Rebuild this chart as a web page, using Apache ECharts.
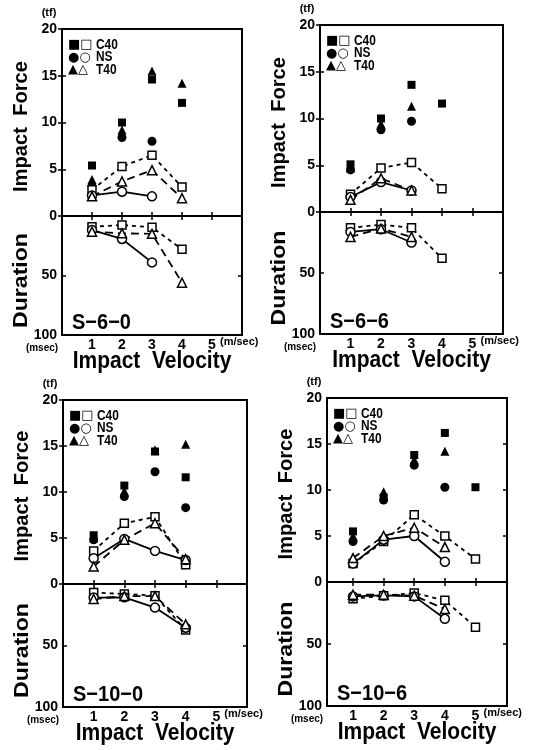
<!DOCTYPE html>
<html>
<head>
<meta charset="utf-8">
<script src="https://cdn.jsdelivr.net/npm/echarts@6/dist/echarts.min.js"></script>
<style>
html, body { margin: 0; padding: 0; background: #fff; }
#chart { width: 544px; height: 750px; }
</style>
</head>
<body>
<div id="chart"></div>
<script>
// impact velocity (m/sec)
const velocity = [1, 2, 3, 4, 5];
const panelNames = ['S\u22126\u22120', 'S\u22126\u22126', 'S\u221210\u22120', 'S\u221210\u22126'];
const forceTicks = [0, 5, 10, 15, 20];     // tf
const durationTicks = [0, 50, 100];        // msec

// impact force (tf), filled marks - one row per panel, one value per velocity
const c40ForceFilled = [
    [5.4, 10.0, 14.6, 12.1, null],
    [5.1, 10.0, 13.6, 11.6, null],
    [5.3, 10.7, 14.4, 11.6, null],
    [5.5, 9.2, 13.8, 16.2, 10.3]
];
const nsForceFilled = [
    [3.2, 8.4, 8.0, null, null],
    [4.5, 8.8, 9.7, null, null],
    [4.8, 9.5, 12.2, 8.3, null],
    [4.4, 8.9, 12.7, 10.3, null]
];
const t40ForceFilled = [
    [3.9, 9.2, 15.5, 14.2, null],
    [4.7, 9.4, 11.3, null, null],
    [5.0, 10.1, 14.6, 15.2, null],
    [5.0, 9.8, 13.3, 14.2, null]
];
// impact force (tf), open marks
const c40ForceOpen = [
    [2.8, 5.3, 6.5, 3.1, null],
    [1.9, 4.7, 5.3, 2.5, null],
    [3.6, 6.6, 7.3, 2.1, null],
    [2.0, 4.4, 7.3, 5.0, 2.5]
];
const nsForceOpen = [
    [2.2, 2.6, 2.1, null, null],
    [1.6, 3.2, 2.3, null, null],
    [2.8, 4.9, 3.6, 2.6, null],
    [2.0, 4.6, 5.0, 2.2, null]
];
const t40ForceOpen = [
    [2.1, 3.7, 4.9, 1.9, null],
    [1.3, 3.6, 2.3, null, null],
    [1.9, 4.8, 6.6, 2.7, null],
    [2.6, 5.0, 5.9, 3.8, null]
];
// duration (msec)
const c40Duration = [
    [9.0, 7.6, 9.5, 28, null],
    [13, 10.3, 13, 38, null],
    [7.0, 8.1, 9.5, 37.4, null],
    [13.5, 11.1, 8.9, 14.8, 36.4]
];
const nsDuration = [
    [11.8, 19.3, 39, null, null],
    [16.3, 14.1, 25, null, null],
    [11, 10.8, 19.2, 35.5, null],
    [11.6, 10.8, 11.6, 29.7, null]
];
const t40Duration = [
    [13.2, 14.6, 15, 56, null],
    [20.4, 13.6, 20.4, null, null],
    [12.2, 9.8, 9.8, 32.8, null],
    [10.3, 10.3, 11, 21.8, null]
];

// panel frames in px (left, top, width, zero line, bottom) and x range
const panels = [
    { left: 62, top: 29, width: 180, zero: 216, bottom: 335, xMin: 0, xMax: 6 },
    { left: 320, top: 25, width: 183, zero: 212, bottom: 334, xMin: 0, xMax: 6 },
    { left: 63, top: 400, width: 184, zero: 584, bottom: 707, xMin: 0, xMax: 6 },
    { left: 327, top: 398, width: 180, zero: 582, bottom: 706, xMin: 0.15, xMax: 6.03 }
];

const FONT = '"Liberation Sans", Arial, sans-serif';

function pairs(arr) {
    return velocity.map((v, i) => [v, arr[i]]).filter((d) => d[1] != null);
}

function tickStyle() {
    return { show: true, inside: true, length: 4, lineStyle: { color: "#000", width: 1.5 } };
}

function xAxisOf(p, gridIndex, position, showLabel) {
    return {
        type: "value",
        gridIndex: gridIndex,
        position: position,
        min: p.xMin,
        max: p.xMax,
        axisLine: { show: false },
        splitLine: { show: false },
        axisTick: Object.assign(tickStyle(), { customValues: velocity }),
        axisLabel: {
            show: showLabel,
            customValues: velocity,
            margin: 3,
            color: "#000",
            fontFamily: FONT,
            fontWeight: "bold",
            fontSize: 14,
        },
    };
}

function yAxisOf(gridIndex, position, ticks, inverse, showLabel) {
    return {
        type: "value",
        gridIndex: gridIndex,
        position: position,
        min: ticks[0],
        max: ticks[ticks.length - 1],
        interval: ticks[1] - ticks[0],
        inverse: inverse,
        axisLine: { show: false },
        splitLine: { show: false },
        axisTick: tickStyle(),
        axisLabel: {
            show: showLabel,
            margin: 5,
            color: "#000",
            fontFamily: FONT,
            fontWeight: "bold",
            fontSize: 14,
            // the 0 of the duration axis is shared with the force axis
            formatter: (v) => (inverse && v === 0 ? "" : String(v)),
        },
    };
}

// text element; align defaults to center
function txt(x, y, s, font, extra, align) {
    return Object.assign(
        {
            type: "text",
            x: x,
            y: y,
            silent: true,
            style: {
                text: s,
                fill: "#000",
                font: font,
                textAlign: align || "center",
                textVerticalAlign: "middle",
            },
        },
        extra || {}
    );
}

const grids = [];
const xAxes = [];
const yAxes = [];
const series = [];
const graphics = [];

panels.forEach((p, k) => {
    const gF = grids.length;
    const gD = gF + 1;
    const frame = { show: true, borderColor: "#000", borderWidth: 2, backgroundColor: "transparent", containLabel: false, outerBoundsMode: "none" };
    grids.push(Object.assign({ left: p.left, top: p.top, width: p.width, height: p.zero - p.top }, frame));
    grids.push(Object.assign({ left: p.left, top: p.zero, width: p.width, height: p.bottom - p.zero }, frame));

    const xF = xAxes.length;
    xAxes.push(xAxisOf(p, gF, "bottom", false));
    xAxes.push(xAxisOf(p, gF, "top", false));
    const xD = xAxes.length;
    xAxes.push(xAxisOf(p, gD, "bottom", true));

    const yF = yAxes.length;
    yAxes.push(yAxisOf(gF, "left", forceTicks, false, true));
    yAxes.push(yAxisOf(gF, "right", forceTicks, false, false));
    const yD = yAxes.length;
    yAxes.push(yAxisOf(gD, "left", durationTicks, true, true));
    yAxes.push(yAxisOf(gD, "right", durationTicks, true, false));

    // filled marks, no lines
    [
        [c40ForceFilled, "rect", 8],
        [nsForceFilled, "circle", 9],
        [t40ForceFilled, "triangle", 9],
    ].forEach(([arr, sym, size]) => {
        series.push({
            type: "scatter",
            xAxisIndex: xF,
            yAxisIndex: yF,
            symbol: sym,
            symbolSize: size,
            itemStyle: { color: "#000", opacity: 1 },
            data: pairs(arr[k]),
            z: 3,
        });
    });

    // open marks joined by lines
    const openDefs = [
        [c40ForceOpen, c40Duration, "rect", 8, [4, 4]],
        [nsForceOpen, nsDuration, "circle", 9, "solid"],
        [t40ForceOpen, t40Duration, "triangle", 9, [8, 5]],
    ];
    openDefs.forEach(([fArr, dArr, sym, size, dash]) => {
        [
            [fArr, xF, yF],
            [dArr, xD, yD],
        ].forEach(([arr, xi, yi]) => {
            series.push({
                type: "line",
                xAxisIndex: xi,
                yAxisIndex: yi,
                symbol: sym,
                symbolSize: size,
                showAllSymbol: true,
                itemStyle: { color: "#fff", borderColor: "#000", borderWidth: 1.5, opacity: 1 },
                lineStyle: { color: "#000", width: 1.8, type: dash },
                data: pairs(arr[k]),
                z: 4,
            });
        });
    });

    // texts around the frame
    const midF = (p.top + p.zero) / 2;
    const midD = (p.zero + p.bottom) / 2;
    const cx = p.left + p.width / 2;
    const x5 = p.left + (p.width * (5 - p.xMin)) / (p.xMax - p.xMin);
    graphics.push(txt(p.left - 13, p.top - 16, "(tf)", "bold 11px " + FONT));
    graphics.push(txt(p.left - 20, p.bottom + 13, "(msec)", "bold 10px " + FONT));
    graphics.push(txt(x5 + 8, p.bottom + 7, "(m/sec)", "bold 11px " + FONT, null, "left"));
    graphics.push(txt(p.left - 41, midF + 4, "Impact  Force", "bold 21px " + FONT, { rotation: Math.PI / 2, scaleX: 0.96 }));
    graphics.push(txt(p.left - 41, midD + 5, "Duration", "bold 21px " + FONT, { rotation: Math.PI / 2, scaleX: 1.1 }));
    graphics.push(txt(cx, p.bottom + 26, "Impact  Velocity", "bold 21px " + FONT, { scaleY: 1.15 }));
    graphics.push(txt(p.left + 10, p.bottom - 12, panelNames[k], "bold 20px " + FONT, { scaleY: 1.1 }, "left"));

    // legend
    const legendRows = [
        ["\u25A0\u25A1", "C40"],
        ["\u25CF\u25CB", "NS"],
        ["\u25B2\u25B3", "T40"],
    ];
    legendRows.forEach(([sym, label], r) => {
        const y = p.top + 16 + r * 12.5;
        graphics.push(txt(p.left + 6, y, sym, "bold 13px 'DejaVu Sans', sans-serif", null, "left"));
        graphics.push(txt(p.left + 34, y, label, "bold 14px " + FONT, { scaleX: 0.85 }, "left"));
    });
});

const myChart = echarts.init(document.getElementById("chart"));
myChart.setOption({
    animation: false,
    backgroundColor: "#fff",
    grid: grids,
    xAxis: xAxes,
    yAxis: yAxes,
    series: series,
    graphic: { elements: graphics },
});
</script>
</body>
</html>
